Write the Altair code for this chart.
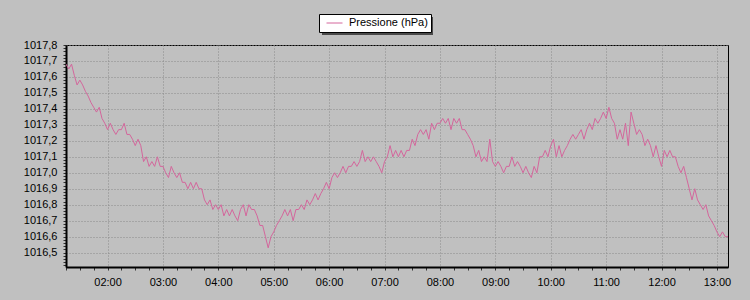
import altair as alt
import pandas as pd
import numpy as np

# Pressure readings (hPa), one every 3 minutes from 01:15 to 13:12
p_0115 = [1017.68, 1017.65, 1017.68, 1017.61, 1017.55, 1017.58, 1017.55, 1017.51, 1017.48, 1017.44,
          1017.41, 1017.38, 1017.41, 1017.34, 1017.31]
p_02 = [1017.27, 1017.31, 1017.27, 1017.24, 1017.27, 1017.27, 1017.31, 1017.24, 1017.24, 1017.21,
        1017.17, 1017.21, 1017.17, 1017.07, 1017.10, 1017.04, 1017.07, 1017.04, 1017.10, 1017.04]
p_03 = [1017.04, 1017.00, 1016.97, 1017.04, 1017.00, 1016.97, 1017.00, 1016.94, 1016.94, 1016.90,
        1016.94, 1016.90, 1016.94, 1016.90, 1016.90, 1016.83, 1016.80, 1016.83, 1016.77, 1016.80]
p_04 = [1016.77, 1016.80, 1016.73, 1016.77, 1016.73, 1016.77, 1016.73, 1016.70, 1016.77, 1016.80,
        1016.73, 1016.80, 1016.77, 1016.77, 1016.73, 1016.67, 1016.67, 1016.60, 1016.53, 1016.60]
p_05 = [1016.63, 1016.67, 1016.70, 1016.73, 1016.77, 1016.73, 1016.77, 1016.70, 1016.77, 1016.77,
        1016.80, 1016.77, 1016.83, 1016.80, 1016.83, 1016.87, 1016.83, 1016.87, 1016.90, 1016.94]
p_06 = [1016.90, 1016.97, 1017.00, 1016.97, 1017.00, 1017.04, 1017.00, 1017.04, 1017.04, 1017.07,
        1017.04, 1017.07, 1017.14, 1017.07, 1017.10, 1017.07, 1017.10, 1017.07, 1017.04, 1017.00]
p_07 = [1017.07, 1017.10, 1017.17, 1017.10, 1017.14, 1017.10, 1017.14, 1017.10, 1017.14, 1017.14,
        1017.21, 1017.17, 1017.24, 1017.27, 1017.24, 1017.27, 1017.21, 1017.31, 1017.27, 1017.31]
p_08 = [1017.31, 1017.34, 1017.31, 1017.34, 1017.27, 1017.34, 1017.31, 1017.34, 1017.27, 1017.27,
        1017.24, 1017.21, 1017.17, 1017.10, 1017.14, 1017.07, 1017.10, 1017.07, 1017.21, 1017.07]
p_09 = [1017.04, 1017.07, 1017.04, 1017.00, 1017.04, 1017.04, 1017.10, 1017.04, 1017.07, 1017.04,
        1017.00, 1017.04, 1017.00, 1016.97, 1017.04, 1017.00, 1017.10, 1017.10, 1017.14, 1017.10]
p_10 = [1017.17, 1017.21, 1017.10, 1017.17, 1017.10, 1017.14, 1017.17, 1017.21, 1017.24, 1017.21,
        1017.24, 1017.27, 1017.21, 1017.27, 1017.31, 1017.27, 1017.34, 1017.31, 1017.34, 1017.38]
p_11 = [1017.34, 1017.41, 1017.34, 1017.31, 1017.21, 1017.27, 1017.21, 1017.31, 1017.17, 1017.38,
        1017.31, 1017.24, 1017.27, 1017.24, 1017.17, 1017.21, 1017.17, 1017.10, 1017.17, 1017.10]
p_12 = [1017.04, 1017.14, 1017.10, 1017.14, 1017.10, 1017.10, 1017.04, 1017.00, 1017.04, 1016.97,
        1016.90, 1016.83, 1016.90, 1016.83, 1016.80, 1016.77, 1016.80, 1016.73, 1016.70, 1016.67]
p_13 = [1016.63, 1016.60, 1016.63, 1016.60, 1016.60]

pressure = p_0115 + p_02 + p_03 + p_04 + p_05 + p_06 + p_07 + p_08 + p_09 + p_10 + p_11 + p_12 + p_13
start_minute = 75      # 01:15
step_minutes = 3
minutes = [start_minute + i * step_minutes for i in range(len(pressure))]

series_name = "Pressione (hPa)"
x_domain = [75, 792]          # 01:15 .. 13:12
y_domain = [1016.41, 1017.8]
x_ticks = list(range(75, 793, 15))
y_ticks = [round(1016.42 + 0.02 * i, 2) for i in range(70)]

df = pd.DataFrame({"min": minutes, "p": pressure, "serie": series_name})

line_color = "#d4669c"
grid_color = "#8a8a8a"
font = "Liberation Sans"

x_label = ("datum.value % 60 == 0 ? ((floor(datum.value/60) < 10 ? '0' : '') + "
           "floor(datum.value/60) + ':00') : ''")
y_major = "abs(datum.value*10 - round(datum.value*10)) < 0.001"
y_label = "(" + y_major + ") ? replace(format(datum.value, '.1f'), '.', ',') : ''"

line = alt.Chart(df).mark_line(strokeWidth=1, clip=True).encode(
    x=alt.X("min:Q", scale=alt.Scale(domain=x_domain, nice=False, zero=False),
            axis=alt.Axis(values=x_ticks, labelExpr=x_label, title=None,
                          grid=True, gridColor=grid_color, gridDash=[1, 2],
                          gridOpacity={"condition": {"test": "datum.value % 60 == 0", "value": 1}, "value": 0},
                          tickSize=3, tickColor="#333333", labelPadding=6,
                          domainColor="black", domainWidth=2,
                          labelFont=font, labelFontSize=11, labelColor="black",
                          labelOverlap=False, labelFlush=False)),
    y=alt.Y("p:Q", scale=alt.Scale(domain=y_domain, nice=False, zero=False),
            axis=alt.Axis(values=y_ticks, labelExpr=y_label, title=None,
                          grid=True, gridColor=grid_color, gridDash=[1, 2],
                          gridOpacity={"condition": {"test": y_major, "value": 1}, "value": 0},
                          tickSize=3, tickColor="#333333", labelPadding=6,
                          domainColor="black", domainWidth=2,
                          labelFont=font, labelFontSize=11, labelColor="black",
                          labelOverlap=False, labelFlush=False, labelBaseline="middle")),
    color=alt.Color("serie:N", scale=alt.Scale(range=[line_color]),
                    legend=alt.Legend(title=None, orient="none", legendX=253, legendY=-31,
                                      fillColor="white", strokeColor="black", padding=3,
                                      clipHeight=12, symbolOffset=4,
                                      symbolType="stroke", symbolSize=256, symbolStrokeWidth=1,
                                      labelFont=font, labelFontSize=11, labelColor="black",
                                      labelOffset=6)),
)

# drop shadow behind the legend box
shadow = alt.Chart(df.head(1)).mark_rect(color="#4a4a4a", clip=False).encode(
    x=alt.value(256), x2=alt.value(367), y=alt.value(-28), y2=alt.value(-10)
)

chart = alt.layer(shadow, line).properties(
    width=662, height=222,
    padding={"left": 66, "top": 45, "right": 22, "bottom": 33},
    autosize=alt.AutoSizeParams(type="none"),
    background="#c0c0c0",
).configure_view(
    fill="#c0c0c0", stroke="black", strokeWidth=1
)

chart.save("out.html", embed_options={"renderer": "svg", "actions": False})
